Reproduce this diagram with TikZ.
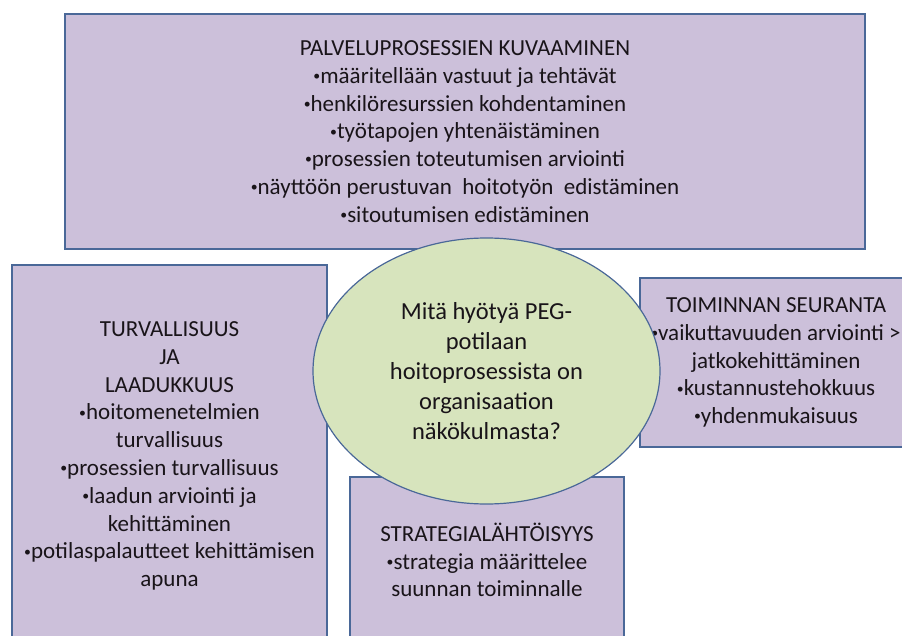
\documentclass[tikz,border=0pt]{standalone}
\usepackage{fontspec}
\setmainfont{Carlito}
\usetikzlibrary{shapes.geometric}
\definecolor{boxfill}{RGB}{204,192,218}
\definecolor{boxline}{RGB}{74,104,152}
\definecolor{ovalfill}{RGB}{215,228,189}
\definecolor{txt}{RGB}{25,20,25}
% small list bullet
\newcommand{\bul}{\raisebox{0.12em}{\scalebox{0.6}{•}}}
\tikzset{
  panel/.style={draw=boxline, line width=1.6pt, fill=boxfill, rectangle,
    align=center, inner sep=0pt, text=txt,
    font=\fontsize{23}{27.8}\selectfont},
  question/.style={draw=boxline, line width=1.2pt, fill=ovalfill, ellipse,
    align=center, inner sep=0pt, text=txt,
    font=\fontsize{24.5}{30.2}\selectfont}
}
\begin{document}
\begin{tikzpicture}[x=1pt,y=-1pt]
\useasboundingbox (0,0) rectangle (902,636);
\clip (0,0) rectangle (902,636);
\fill[white] (0,0) rectangle (902,636);

% service processes
\node[panel, minimum width=800pt, minimum height=235pt] (proc) at (465,131.5)
  {PALVELUPROSESSIEN KUVAAMINEN\\
   \bul määritellään vastuut ja tehtävät\\
   \bul henkilöresurssien kohdentaminen\\
   \bul työtapojen yhtenäistäminen\\
   \bul prosessien toteutumisen arviointi\\
   \bul näyttöön perustuvan\ \ hoitotyön\ \ edistäminen\\
   \bul sitoutumisen edistäminen};

% safety and quality
\node[panel, minimum width=315pt, minimum height=382pt] (safe) at (169.5,456)
  {TURVALLISUUS\\
   JA\\
   LAADUKKUUS\\
   \bul hoitomenetelmien\\
   turvallisuus\\
   \bul prosessien turvallisuus\\
   \bul laadun arviointi ja\\
   kehittäminen\\
   \bul potilaspalautteet kehittämisen\\
   apuna};

% monitoring
\node[panel, minimum width=272pt, minimum height=169pt] (monitor) at (776,362.5)
  {TOIMINNAN SEURANTA\\
   \bul vaikuttavuuden arviointi >\\
   jatkokehittäminen\\
   \bul kustannustehokkuus\\
   \bul yhdenmukaisuus};

% strategy
\node[panel, minimum width=274pt, minimum height=166pt] (strategy) at (487,560)
  {STRATEGIALÄHTÖISYYS\\
   \bul strategia määrittelee\\
   suunnan toiminnalle};

% central question
\node[question, minimum width=347pt, minimum height=266pt] (centre) at (486.5,371)
  {Mitä hyötyä PEG-\\
   potilaan\\
   hoitoprosessista on\\
   organisaation\\
   näkökulmasta?};
\end{tikzpicture}
\end{document}
